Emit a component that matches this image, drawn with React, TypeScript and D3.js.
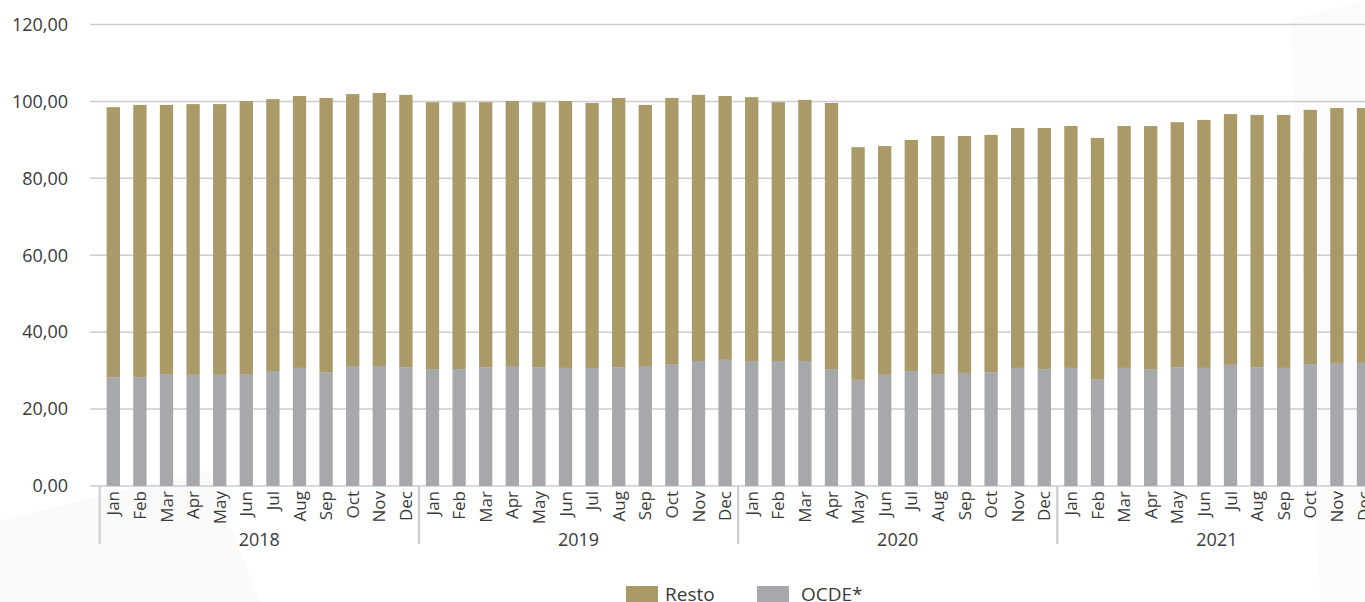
import React from 'react';
import * as d3 from 'd3';

const months = ['Jan', 'Feb', 'Mar', 'Apr', 'May', 'Jun', 'Jul', 'Aug', 'Sep', 'Oct', 'Nov', 'Dec'];
const years = ['2018', '2019', '2020', '2021'];

// OCDE* (grey, bottom)
const ocde = [
  28.3, 28.3, 29.1, 28.9, 28.9, 29.1, 29.9, 30.7, 29.6, 31.2, 31.2, 30.9,
  30.4, 30.4, 30.9, 31.2, 30.9, 30.7, 30.7, 30.9, 31.2, 31.7, 32.5, 32.8,
  32.5, 32.5, 32.5, 30.4, 27.6, 28.9, 29.9, 29.1, 29.4, 29.6, 30.7, 30.4,
  30.7, 27.8, 30.7, 30.4, 30.9, 30.7, 31.5, 30.9, 30.7, 31.7, 32.0, 32.0,
];
// Resto (gold, top)
const resto = [
  70.2, 70.8, 70.0, 70.4, 70.4, 71.0, 70.7, 70.7, 71.3, 70.7, 71.0, 70.8,
  69.4, 69.4, 68.9, 68.9, 68.9, 69.4, 68.9, 70.0, 67.9, 69.2, 69.2, 68.6,
  68.6, 67.3, 67.9, 69.2, 60.5, 59.5, 60.1, 61.9, 61.6, 61.7, 62.4, 62.7,
  62.9, 62.7, 62.9, 63.2, 63.7, 64.5, 65.2, 65.6, 65.8, 66.1, 66.3, 66.3,
];
const yTicks = [0, 20, 40, 60, 80, 100, 120];

const W = 1365;
const H = 602;
const GOLD = '#a99a68';
const GREY = '#a7a8ab';
const GRID = '#cdcdcf';
const TEXT = '#3a3a3a';
const FONT = '"Open Sans", sans-serif';

const App: React.FC = () => {
  const idx = d3.range(ocde.length);
  const step = 26.6;
  const x = d3.scaleBand<number>()
    .domain(idx)
    .range([100, 100 + idx.length * step])
    .paddingInner(0.5)
    .paddingOuter(0.25);
  const y = d3.scaleLinear().domain([0, 120]).range([486, 24.5]);
  const fmt = (v: number) => v.toFixed(2).replace('.', ',');

  return (
    <div style={{ position: 'absolute', left: 0, top: 0 }}>
      <svg width={W} height={H} style={{ display: 'block', background: '#fff' }} fontFamily={FONT}>
        {/* faint background shapes */}
        <polygon points="0,520 210,470 260,602 0,602" fill="#fafafa" />
        <polygon points="1290,20 1365,0 1365,602 1320,602" fill="#fbfbfb" />

        {/* grid */}
        {yTicks.map(t => (
          <g key={t}>
            <line x1={90} x2={W} y1={y(t)} y2={y(t)} stroke={GRID} strokeWidth={1.5} />
            <text x={68} y={y(t)} dy="0.35em" textAnchor="end" fontSize={18} fill={TEXT}>{fmt(t)}</text>
          </g>
        ))}

        {/* bars */}
        {idx.map(i => (
          <g key={i}>
            <rect x={x(i)} width={x.bandwidth()} y={y(ocde[i])} height={y(0) - y(ocde[i])} fill={GREY} />
            <rect x={x(i)} width={x.bandwidth()} y={y(ocde[i] + resto[i])} height={y(ocde[i]) - y(ocde[i] + resto[i])} fill={GOLD} />
          </g>
        ))}

        {/* month labels */}
        {idx.map(i => {
          const cx = (x(i) as number) + x.bandwidth() / 2;
          return (
            <text key={i} transform={`translate(${cx},491) rotate(-90)`} dy="0.36em" textAnchor="end" fontSize={17} fill={TEXT}>
              {months[i % 12]}
            </text>
          );
        })}

        {/* year separators and labels */}
        {years.map((yr, k) => {
          const x0 = (x(k * 12) as number) - x.step() * x.paddingInner() / 2 - 0.3;
          const x1 = x0 + 12 * x.step();
          return (
            <g key={yr}>
              <line x1={x0} x2={x0} y1={486} y2={544} stroke={GRID} strokeWidth={2} />
              <line x1={x1} x2={x1} y1={486} y2={544} stroke={GRID} strokeWidth={2} />
              <text x={(x0 + x1) / 2} y={546} textAnchor="middle" fontSize={18} fill={TEXT}>{yr}</text>
            </g>
          );
        })}

        {/* legend */}
        <rect x={626} y={586} width={32} height={17} fill={GOLD} />
        <text x={665} y={601} fontSize={19} fill={TEXT}>Resto</text>
        <rect x={757} y={586} width={32} height={17} fill={GREY} />
        <text x={801} y={601} fontSize={19} fill={TEXT}>OCDE*</text>
      </svg>
    </div>
  );
};

export default App;
